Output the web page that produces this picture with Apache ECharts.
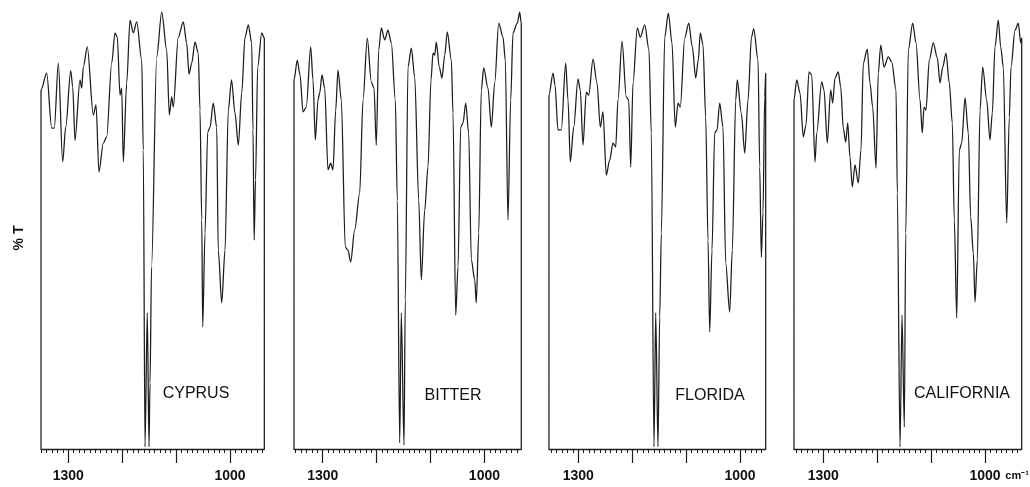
<!DOCTYPE html>
<html><head><meta charset="utf-8">
<script src="https://cdn.jsdelivr.net/npm/echarts@6/dist/echarts.min.js"></script>
<style>html,body{margin:0;padding:0;background:#fff}#c{width:1030px;height:487px}</style>
</head><body><div id="c"></div>
<script>
// ---- data (wavenumber cm-1, %T) ----
const panelNames = ['CYPRUS', 'BITTER', 'FLORIDA', 'CALIFORNIA'];
const majorTicks = [1300, 1200, 1100, 1000];
const labelTicks = [1300, 1000];
const yAxisName = '% T';
const unitLabel = 'cm⁻¹';

const cyprus = [[1350.6,0],[1350.6,81.8],[1340.1,85.6],[1330.8,73.1],[1326,73.1],[1318.5,87.9],[1310.4,65.4],[1304.8,73.3],[1295.5,86.2],[1291.8,82.5],[1287.6,70.3],[1278.3,84.1],[1275.1,82.2],[1272.2,87],[1264.8,91.6],[1253.6,76.1],[1248.6,78.4],[1243.1,63.1],[1235.1,69.7],[1228.8,71.1],[1219.5,87.9],[1213.4,94.8],[1209.1,93.8],[1204.1,80.6],[1200.9,82.2],[1198,65.4],[1191.7,83.4],[1185.5,97.7],[1179.4,94.8],[1173.1,97.3],[1163.8,88.6],[1160.9,68.1],[1157.7,0.5],[1153.5,31],[1150.3,0.5],[1148.4,15],[1145.6,41.5],[1136,89.3],[1126.7,99.5],[1117.5,90.9],[1112.6,76.1],[1108.2,80.2],[1105.2,77.9],[1096,93.8],[1086.7,97.3],[1080.4,92.5],[1076.1,85.4],[1071.1,87.9],[1065,92.7],[1058.9,90.2],[1055.7,77.2],[1052.5,52.2],[1050.7,27.8],[1046.4,49.2],[1041.4,72.2],[1037.1,73.3],[1031.1,78.8],[1024.7,73.3],[1021.8,45.3],[1015.4,33.3],[1009.3,45.3],[1003.2,77.2],[997.2,84.1],[990.8,76.5],[984.6,69.2],[978.3,81.1],[972.2,93.8],[966.1,96.6],[959.8,92.5],[957.4,72.7],[955.3,47.6],[952.7,61.3],[948.7,87],[941.2,94.8],[936.4,93.6],[936.4,0]];

const bitter = [[1353.2,0],[1353.2,84.1],[1347.1,88.6],[1342.1,85.2],[1336.5,76.8],[1330.4,77.9],[1322.3,91.6],[1318,84.1],[1313.7,70.4],[1308.7,79.5],[1305.6,81.1],[1301.3,85.2],[1296.3,82.2],[1290.2,63.6],[1285.2,65.1],[1280.9,63.6],[1275.9,77.2],[1271.6,86.3],[1265.5,79.5],[1258.1,46],[1253.1,45.3],[1248.1,42.6],[1240.6,49.9],[1231.4,58.3],[1225.2,79.5],[1217.3,93.6],[1209.8,83.6],[1204.8,82.2],[1200.6,69.2],[1196.1,90.9],[1191.3,95.9],[1185,93.2],[1178.9,95.4],[1172.7,92.5],[1165.3,79.5],[1161.6,56.7],[1157.2,1.4],[1154.2,31],[1149.2,0.9],[1146.8,33.9],[1141.8,87],[1135.6,91.3],[1129.3,84.7],[1121.9,56.7],[1117.1,38.5],[1110.8,54.4],[1104.7,64.2],[1099.1,84.1],[1095.4,90.2],[1092.2,89.7],[1089.3,92.7],[1083.7,87],[1078.7,84.5],[1073.7,89.7],[1068.9,95],[1061.4,88.6],[1058.3,76.5],[1053.3,30.5],[1049,41.5],[1044,73.3],[1039.7,74.3],[1034.7,78.8],[1029.2,72],[1024.3,43.1],[1018,38.5],[1015.1,33.3],[1010.6,49.2],[1005.8,81.8],[1001.3,86.8],[993.4,82.2],[987.2,73.3],[980.9,83.4],[973.5,97],[965.5,93.8],[961.3,88.6],[956.3,52.2],[951.3,79.5],[947,94.8],[939,97],[934.6,99.5],[931.7,97],[931.7,0]];

const florida = [[1354.4,0],[1354.4,80.6],[1346.9,85.6],[1343.2,82.9],[1337.7,72.7],[1331.5,72.7],[1323.4,87.9],[1319.1,79.5],[1314.8,65.4],[1308.5,73.3],[1300.6,84.3],[1296.3,81.8],[1291.3,69.2],[1285.2,81.3],[1280.7,80.6],[1272.7,88.8],[1265.3,83.4],[1259.2,73.3],[1254.2,76.8],[1248.1,62.4],[1241.8,65.8],[1235.6,69.7],[1230.6,68.8],[1226.4,79.5],[1218.9,92.9],[1211,80.2],[1206.5,79.5],[1202.8,64.2],[1198.5,83.4],[1190.6,95.9],[1185,93.8],[1176.8,96.6],[1168.9,90.9],[1164.6,72],[1159.6,0.5],[1156.4,31],[1152.2,0.5],[1149,30.1],[1146,49.2],[1139.7,93.8],[1133,99.3],[1126.2,92.5],[1120.1,73.3],[1115.1,78.8],[1110.8,77.9],[1102.6,93.6],[1095.2,97],[1088.5,91.6],[1082.2,84.5],[1077.4,88.6],[1073.7,94.8],[1068.7,92],[1063.7,75.6],[1059.4,47.6],[1056.3,26.7],[1052,45.3],[1047,72],[1042.7,72.7],[1037.7,78.8],[1031.6,73.3],[1026.6,42.4],[1019.2,31.2],[1014.3,45.3],[1008,79.5],[1005.1,84.1],[997.6,76.5],[991.3,67.4],[985.2,79.5],[978.8,93.8],[974.6,95.7],[966.6,88.6],[963.5,64.2],[960.5,43.7],[957.4,53.8],[954.2,80.2],[952.4,85.6],[952.4,0]];

const california = [[1354.4,0],[1354.4,79.5],[1349.3,84.1],[1343.2,81.1],[1337.1,71.1],[1332.1,73.8],[1326.5,85.9],[1321.5,85.2],[1315.4,65.4],[1312.2,72],[1303,83.6],[1298.7,81.8],[1292.6,69.7],[1286.3,81.8],[1282.6,78.8],[1278.3,84.5],[1272.2,85.9],[1267.7,82.5],[1262.9,73.1],[1258.4,69.9],[1254.7,74.3],[1250.5,66.5],[1246.2,59.7],[1241.2,64.7],[1235.1,60.6],[1230.1,68.1],[1225.8,87.9],[1218.4,91.1],[1213.4,83.4],[1208.4,77.9],[1202.2,64],[1198,85.6],[1193.5,92],[1187.4,87],[1179.4,89.3],[1173.1,88.2],[1165.1,81.8],[1162.7,58.3],[1157.7,0.5],[1154,30.5],[1149.7,5],[1147.1,49.2],[1142.3,90.9],[1134.2,97],[1128,92.5],[1120.6,79.5],[1116.4,72],[1113.2,77.9],[1109.5,77.2],[1103.4,88.6],[1096,92.5],[1088.5,89.1],[1083.5,83.4],[1078.5,87],[1072.4,90.2],[1066.3,83.4],[1060.7,74.3],[1057,52.2],[1052.5,29.8],[1047.7,68.1],[1043.3,69.7],[1037.1,80],[1031,72],[1026.6,52.8],[1021.7,44.6],[1018.6,33.5],[1014.3,43.1],[1009.3,77.2],[1004.3,87],[996.9,79.5],[990.8,70.4],[986.5,76.5],[981.5,91.6],[975.4,97.7],[970.9,91.6],[966.1,87],[959.8,51.5],[955,75.6],[951.8,87],[944.4,95.4],[938.3,97],[933.8,92.5],[932,93.6],[932,0]];

const spectra = [cyprus, bitter, florida, california];

// ---- layout ----
const pxPerCm = 0.5391;
const tick1300px = [68.3, 322.7, 578.3, 823.3];
const gridTop = 10, gridHeight = 439;
const namePos = [[196, 394], [453, 396], [710, 396], [962, 394]];
const ink = '#1c1c1c';

const grids = [], xAxes = [], yAxes = [], series = [];
spectra.forEach((d, i) => {
  const xs = d.map(p => p[0]);
  const mn = Math.min(...xs), mx = Math.max(...xs);
  grids.push({ left: tick1300px[i] - (mx - 1300) * pxPerCm, width: (mx - mn) * pxPerCm, top: gridTop, height: gridHeight, outerBoundsMode: 'none', containLabel: false });
  const minor = [];
  for (let v = Math.ceil(mn / 10) * 10; v <= mx; v += 10) minor.push(v);
  const last = i === spectra.length - 1;
  xAxes.push({
    type: 'value', gridIndex: i, inverse: true, min: mn, max: mx, position: 'bottom',
    axisLine: { show: true, lineStyle: { color: ink, width: 1.3 } },
    axisTick: { show: true, customValues: majorTicks, length: 14, lineStyle: { color: ink, width: 1.2 } },
    axisLabel: {
      show: true, customValues: labelTicks, margin: 20, hideOverlap: false,
      color: '#111', fontFamily: 'Liberation Sans', fontSize: 14, fontWeight: 'bold',
      formatter: v => (last && v === 1000) ? '{p|}{n|1000}{g|}{u|' + unitLabel + '}' : String(v),
      rich: {
        p: { width: 28 },
        n: { color: '#111', fontFamily: 'Liberation Sans', fontSize: 14, fontWeight: 'bold' },
        g: { width: 5 },
        u: { width: 23, align: 'left', color: '#111', fontFamily: 'Liberation Sans', fontSize: 11 }
      }
    },
    splitLine: { show: false }
  });
  xAxes.push({
    type: 'value', gridIndex: i, inverse: true, min: mn, max: mx, position: 'bottom', offset: 0,
    axisLine: { show: false },
    axisTick: { show: true, customValues: minor, length: 4, lineStyle: { color: ink, width: 1 } },
    axisLabel: { show: false },
    splitLine: { show: false }
  });
  yAxes.push({ type: 'value', gridIndex: i, min: 0, max: 100, show: false, splitLine: { show: false } });
  series.push({
    type: 'line', xAxisIndex: i * 2, yAxisIndex: i, data: d,
    showSymbol: false, symbol: 'none', clip: false, animation: false,
    smooth: 0.3, smoothMonotone: 'x',
    lineStyle: { color: ink, width: 1.25 }
  });
});

const graphics = panelNames.map((n, i) => ({
  type: 'text', x: namePos[i][0], y: namePos[i][1],
  style: { text: n, fill: '#111', font: '16px "Liberation Sans"', textAlign: 'center', textVerticalAlign: 'middle' }
}));
graphics.push({
  type: 'text', x: 19, y: 238, rotation: Math.PI / 2,
  style: { text: yAxisName, fill: '#111', font: 'bold 14px "Liberation Sans"', textAlign: 'center', textVerticalAlign: 'middle' }
});

const chart = echarts.init(document.getElementById('c'), null, { renderer: 'canvas' });
chart.setOption({
  backgroundColor: '#fff',
  animation: false,
  grid: grids, xAxis: xAxes, yAxis: yAxes, series: series,
  graphic: graphics
});
</script></body></html>
